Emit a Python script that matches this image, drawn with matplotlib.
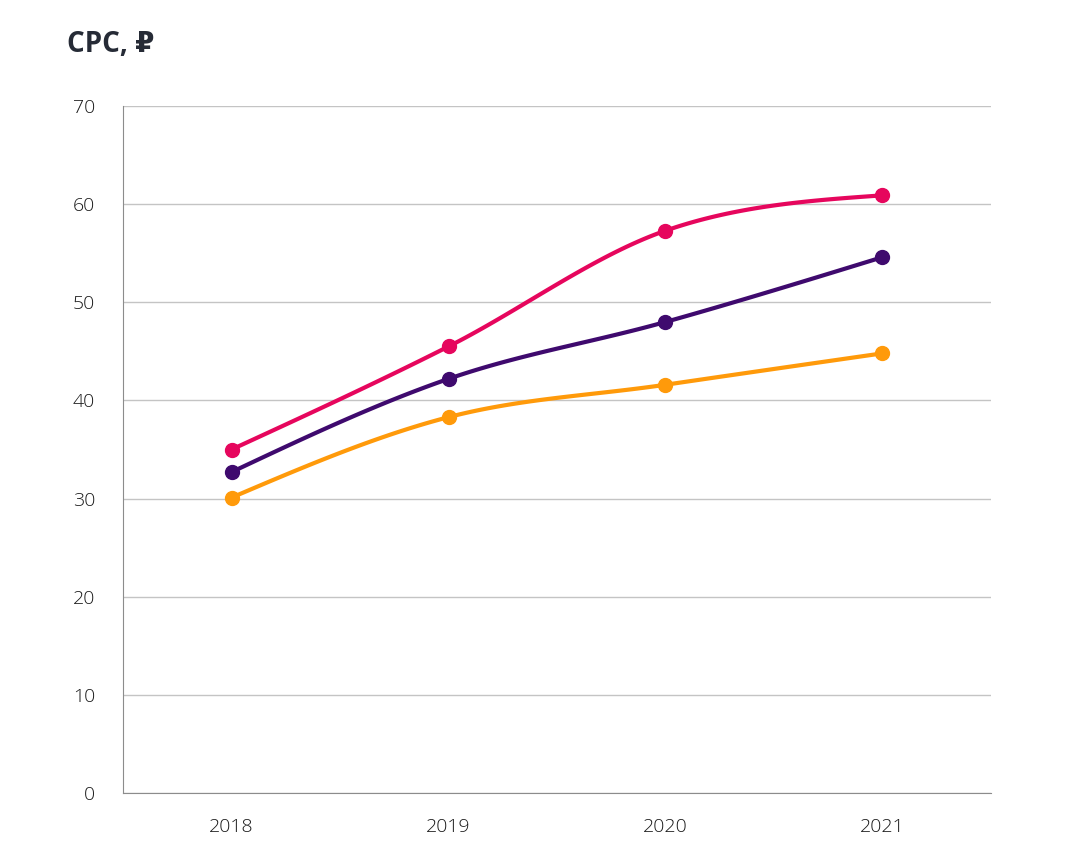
import numpy as np
import matplotlib
matplotlib.use('Agg')
import matplotlib.pyplot as plt

years = ['2018', '2019', '2020', '2021']
pink = [35.0, 45.5, 57.3, 60.9]
purple = [32.7, 42.2, 48.0, 54.6]
orange = [30.1, 38.3, 41.6, 44.8]

colors = {'pink': '#e6065d', 'purple': '#3f0a6e', 'orange': '#ff9a0a'}


def monotone_curve(x, y, n=40):
    # d3-style monotoneX cubic hermite between the points
    x = np.asarray(x, float)
    y = np.asarray(y, float)
    h = np.diff(x)
    s = np.diff(y) / h
    t = np.zeros_like(y)
    for i in range(1, len(y) - 1):
        if s[i - 1] * s[i] > 0:
            p = (s[i - 1] * h[i] + s[i] * h[i - 1]) / (h[i - 1] + h[i])
            t[i] = np.sign(s[i]) * min(3 * abs(s[i - 1]), 3 * abs(s[i]), abs(p))
    t[0] = (3 * s[0] - t[1]) / 2
    t[-1] = (3 * s[-1] - t[-2]) / 2
    xs, ys = [], []
    for i in range(len(h)):
        u = np.linspace(0, 1, n)
        h00 = 2 * u**3 - 3 * u**2 + 1
        h10 = u**3 - 2 * u**2 + u
        h01 = -2 * u**3 + 3 * u**2
        h11 = u**3 - u**2
        xs.append(x[i] + u * h[i])
        ys.append(h00 * y[i] + h10 * h[i] * t[i] + h01 * y[i + 1] + h11 * h[i] * t[i + 1])
    return np.concatenate(xs), np.concatenate(ys)


fig = plt.figure(figsize=(10.69, 8.6), dpi=100)
ax = fig.add_axes([0.1151, 0.0779, 0.927 - 0.1151, 0.8767 - 0.0779])

xpos = np.arange(len(years))
for vals, c in [(orange, colors['orange']), (purple, colors['purple']), (pink, colors['pink'])]:
    cx, cy = monotone_curve(xpos, vals)
    ax.plot(cx, cy, color=c, lw=3, solid_capstyle='round', zorder=3)
    ax.plot(xpos, vals, 'o', color=c, ms=10, zorder=4)

ax.set_xlim(-0.5, 3.5)
ax.set_ylim(0, 70)
ax.set_yticks(range(0, 71, 10))
ax.set_xticks(xpos)
ax.set_xticklabels(years)
ax.grid(axis='y', color='#c4c4c4', lw=1)
ax.set_axisbelow(True)
for sp in ['top', 'right']:
    ax.spines[sp].set_visible(False)
ax.spines['left'].set_color('#8c8c8c')
ax.spines['bottom'].set_color('#8c8c8c')
ax.tick_params(length=0, labelsize=14, labelcolor='#1a1a1a')
ax.tick_params(axis='y', pad=20)
ax.tick_params(axis='x', pad=18)
for lab in ax.get_xticklabels() + ax.get_yticklabels():
    lab.set_fontfamily(['Open Sans', 'DejaVu Sans'])
    lab.set_fontweight('light')

fig.text(67 / 1069, 1 - 45 / 860, 'CPC, ₽', fontsize=20, fontweight='bold',
         color='#262b36', va='center', ha='left', family=['Open Sans', 'DejaVu Sans'])

fig.savefig('out.png', dpi=100)
